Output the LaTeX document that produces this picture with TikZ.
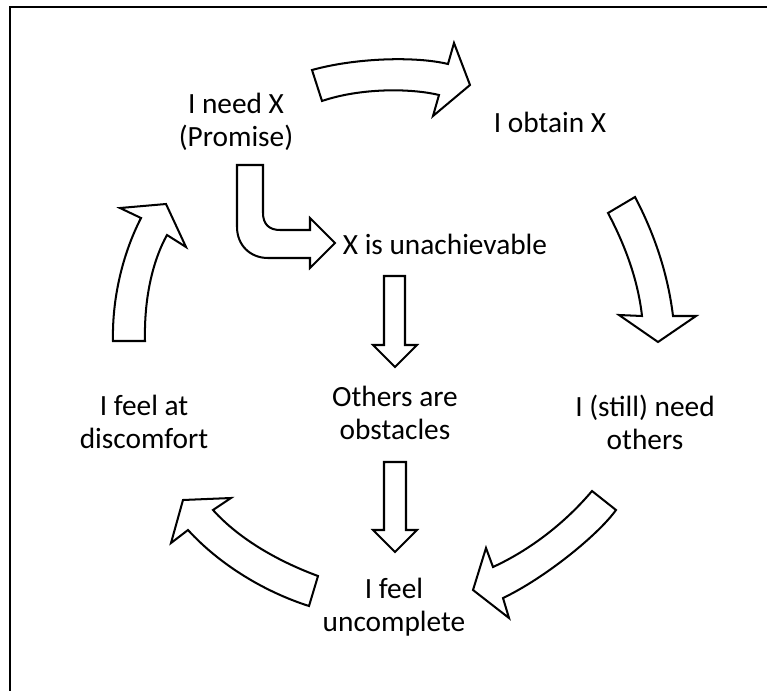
\documentclass[tikz,border=0pt]{standalone}
\usepackage{fontspec}
\setmainfont{Carlito}
\usepackage{tikz}
\usetikzlibrary{arrows.meta,shapes,positioning,calc}
\definecolor{cycline}{RGB}{0,0,0}
\definecolor{cycfill}{RGB}{255,255,255}

\begin{document}
\begin{tikzpicture}[x=0.02cm, y=-0.02cm,
    every node/.style={font=\fontsize{16.7}{18.9}\selectfont, inner sep=0pt, align=center},
    blockarrow/.style={draw=cycline, fill=cycfill, line width=1.15pt, line join=miter}]
    \useasboundingbox (0,0) rectangle (767,690);
    % Frame (only top and left edge show)
    \draw[line width=1.7pt] (10,700) -- (10,7) -- (780,7);

    % Cycle statements
    \node (need) at (236,122) {I need X\\(Promise)};
    \node[anchor=base] (obtain) at (550,132) {I obtain X};
    \node[anchor=base] (unach) at (445,254) {X is unachievable};
    \node (obst) at (395,413) {Others are\\obstacles};
    \node (still) at (645,422) {I (still) need\\others};
    \node (uncompl) at (394,607) {I feel\\uncomplete};
    \node (discomf) at (144,422) {I feel at\\discomfort};

    % Outer cycle arrows
    \draw[blockarrow] (312,70) .. controls (355,58) and (415,56) .. (448,64)
        -- (454,43) -- (470,85) -- (433,116) -- (439,95)
        .. controls (410,88) and (360,88) .. (322,101) -- cycle;
    \draw[blockarrow] (608,213) .. controls (625,245) and (638,280) .. (642,316)
        -- (619,315) -- (658,342) -- (696,316) -- (673,316)
        .. controls (668,275) and (655,235) .. (635,197) -- cycle;
    \draw[blockarrow] (592,491) .. controls (565,523) and (530,550) .. (493,567)
        -- (486,548) -- (473,590) -- (509,618) -- (503,598)
        .. controls (545,578) and (598,535) .. (616,510) -- cycle;
    \draw[blockarrow] (318,576) .. controls (280,562) and (240,540) .. (213,510)
        -- (231,498) -- (183,500) -- (171,543) -- (188,530)
        .. controls (220,565) and (265,592) .. (309,606) -- cycle;
    \draw[blockarrow] (113,341) .. controls (112,300) and (122,255) .. (141,218)
        -- (120,208) -- (166,204) -- (186,247) -- (167,235)
        .. controls (152,262) and (144,300) .. (145,341) -- cycle;

    % Inner branch
    \draw[blockarrow] (237,165) -- (263,165) -- (263,213)
        .. controls (263,224) and (269,230) .. (280,230) -- (310,230)
        -- (310,218) -- (335,243) -- (310,268) -- (310,258) -- (268,258)
        .. controls (250,258) and (237,245) .. (237,227) -- cycle;
    \draw[blockarrow] (384,276) -- (405,276) -- (405,345) -- (417,345)
        -- (395,367) -- (373,345) -- (384,345) -- cycle;
    \draw[blockarrow] (384,462) -- (406,462) -- (406,530) -- (417,530)
        -- (395,552) -- (373,530) -- (384,530) -- cycle;
\end{tikzpicture}
\end{document}
